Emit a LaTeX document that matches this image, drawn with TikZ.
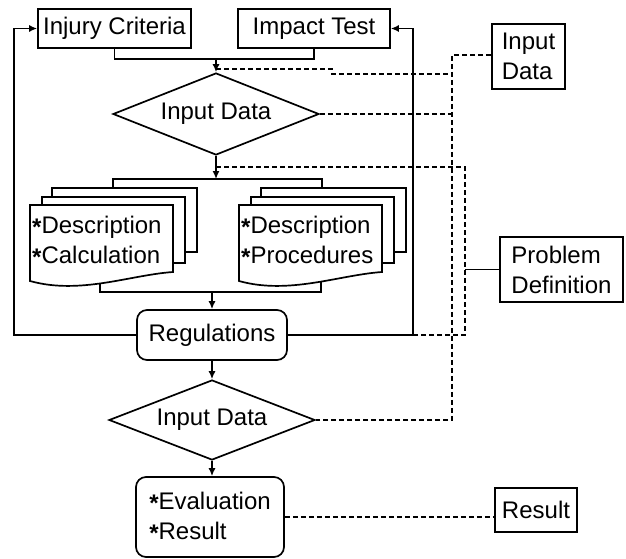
\documentclass[tikz,border=0pt]{standalone}
\usepackage{fontspec}
\setmainfont{Liberation Sans}
\usetikzlibrary{shapes.geometric,arrows.meta,calc}
\newcommand{\bul}{\raisebox{-0.08em}{\textbf{*}}}
\begin{document}
\begin{tikzpicture}[x=1pt,y=-1pt,
  every node/.style={font=\fontsize{24}{30}\selectfont, inner sep=0pt},
  box/.style={draw, line width=1.7pt, fill=white},
  rbox/.style={box, rounded corners=10pt},
  dia/.style={draw, line width=1.7pt, shape=diamond, aspect=2.5},
  conn/.style={line width=1.4pt},
  arr/.style={conn, -{Latex[length=8pt,width=7pt]}},
  dsh/.style={line width=1.3pt, dash pattern=on 5pt off 3pt},
  sheet/.style={draw, line width=1.7pt, fill=white}]
\useasboundingbox (0,0) rectangle (626,559);

% main nodes
\node[box, minimum width=153pt, minimum height=39pt] (inj) at (114.5,28.5) {Injury Criteria};
\node[box, minimum width=152pt, minimum height=39pt] (imp) at (314,28.5) {Impact Test};
\node[box, minimum width=73pt, minimum height=65pt, align=left] (in1) at (528.5,56.5) {Input\\Data};
\node[dia, minimum width=206pt, minimum height=82pt] (d1) at (216,114) {Input Data};
\node[box, minimum width=123pt, minimum height=65pt, align=left] (pd) at (561.5,269.5) {Problem\\Definition};
\node[rbox, minimum width=150pt, minimum height=50pt] (reg) at (212,335) {Regulations};
\node[dia, minimum width=206pt, minimum height=80pt] (d2) at (212,420) {Input Data};
\node[rbox, minimum width=148pt, minimum height=80pt, align=left] (ev) at (210,517) {\bul Evaluation\\\bul Result};
\node[box, minimum width=82pt, minimum height=44pt] (res) at (536,510) {Result};

% coordinates
\coordinate (m1) at (216,59);
\coordinate (m2) at (216,179);
\coordinate (m3) at (212,292);
\coordinate (j1) at (216,69);
\coordinate (j2) at (216,167);
\coordinate (busTop) at (452,55);
\coordinate (b2t) at (465,167);
\coordinate (fbL) at (14,0);
\coordinate (fbR) at (413,0);

% top merge
\draw[conn] (inj.south) -- (inj.south |- m1) -- (imp.south |- m1) -- (imp.south);
\draw[arr] (m1) -- (d1.north);

% documents merge lines
\draw[arr] (d1.south) -- (m2);
\draw[conn] (113,188) -- (113,179) -- (322,179) -- (322,188);
\draw[conn] (100,270) -- (100,292) -- (321,292) -- (321,270);
\draw[arr] (m3) -- (reg.north);

% left document stack
\draw[sheet] (52,188) rectangle (197,252);
\draw[sheet] (42,197) rectangle (185,263);
\draw[sheet] (30,205) -- (173,205) -- (173,272) .. controls (130,275) and (80,295) .. (30,281) -- cycle;
\node[anchor=west, align=left] (docL) at (32,241) {\bul Description\\\bul Calculation};

% right document stack
\draw[sheet] (261,188) rectangle (406,252);
\draw[sheet] (251,197) rectangle (394,263);
\draw[sheet] (239,205) -- (382,205) -- (382,272) .. controls (339,275) and (289,295) .. (239,281) -- cycle;
\node[anchor=west, align=left] (docR) at (241,241) {\bul Description\\\bul Procedures};

% feedback loops
\draw[arr] (reg.west) -- (reg.west -| fbL) -- (fbL |- inj.west) -- (inj.west);
\draw[arr] (reg.east) -- (reg.east -| fbR) -- (fbR |- imp.east) -- (imp.east);

% lower flow
\draw[arr] (reg.south) -- (d2.north);
\draw[arr] (d2.south) -- (d2.south |- ev.north);

% dashed bus to Input Data box
\draw[dsh] (busTop -| in1.west) -- (busTop) -- (busTop |- d2.east) -- (d2.east);
\draw[dsh] (j1) -- (332,69) -- (332,74) -- (busTop |- 0,74);
\draw[dsh] (d1.east) -- (d1.east -| busTop);

% dashed bus to Problem Definition
\draw[dsh] (j2) -- (b2t) -- (b2t |- reg.east) -- (reg.east -| fbR);
\draw[conn] (pd.west) -- (pd.west -| b2t);

% result
\draw[dsh] (ev.east) -- (ev.east -| res.west);
\end{tikzpicture}
\end{document}
